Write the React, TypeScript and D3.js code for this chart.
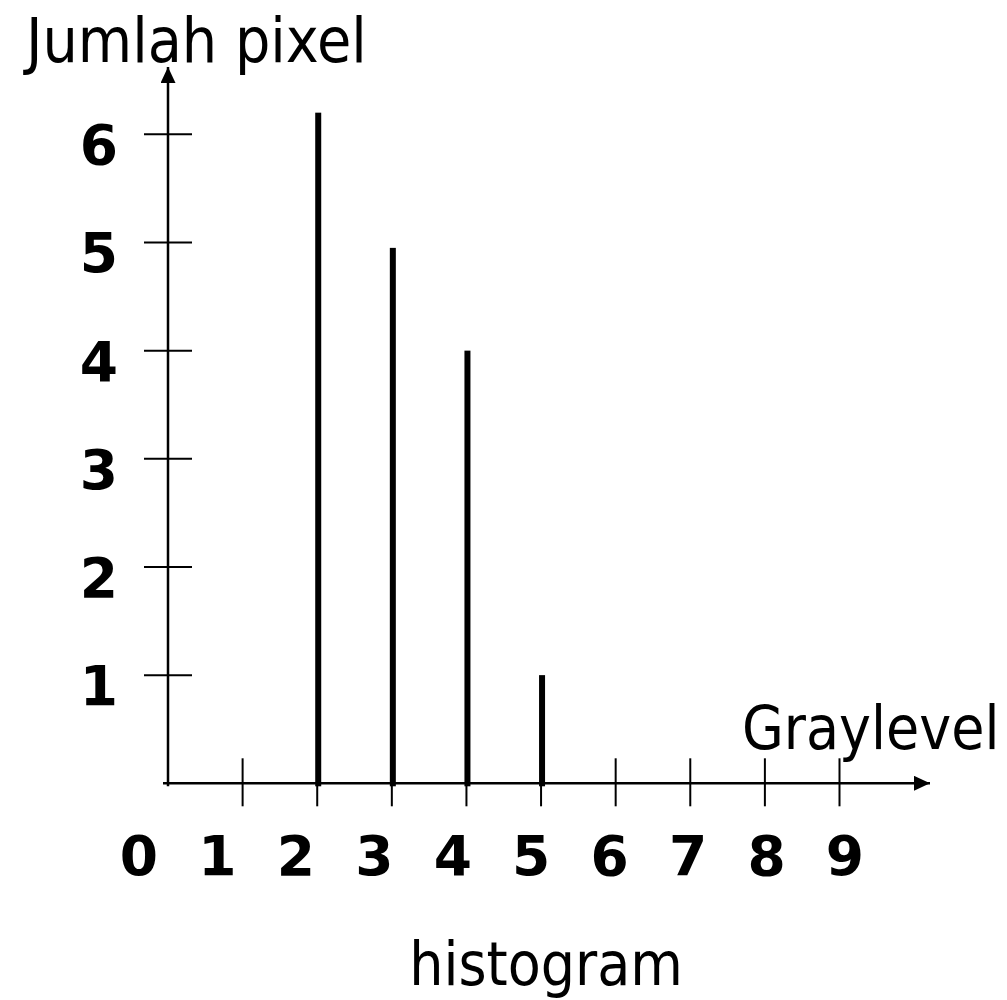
import React, { useEffect, useRef } from 'react'
import * as d3 from 'd3'

const grayLevels = [0, 1, 2, 3, 4, 5, 6, 7, 8, 9]
const pixelCounts = [0, 0, 6.2, 4.95, 4, 1, 0, 0, 0, 0]
const xTickValues = [1, 2, 3, 4, 5, 6, 7, 8, 9]
const xTickLabels = ['0', '1', '2', '3', '4', '5', '6', '7', '8', '9']
const yTickValues = [1, 2, 3, 4, 5, 6]
const yTickLabels = ['1', '2', '3', '4', '5', '6']

const App = () => {
    const Chart = useRef<SVGSVGElement>(null)

    const width = 1007
    const height = 1000
    const titleFont = '"DejaVu Sans Condensed", "DejaVu Sans", sans-serif'
    const tickFont = '"DejaVu Sans", Verdana, sans-serif'

    useEffect(() => {
        const svg = d3.select(Chart.current)
        svg.selectAll('*').remove()

        const x = d3.scaleLinear().domain([0, 9]).range([168, 839.5])
        // labels sit on a slightly wider spacing than the ticks
        const xLab = d3.scaleLinear().domain([0, 9]).range([139, 845])
        const y = d3.scaleLinear().domain([0, 6]).range([783.3, 134.3])

        // arrow head
        svg.append('defs').append('marker')
            .attr('id', 'arrow')
            .attr('viewBox', '0 0 16 15')
            .attr('refX', 16)
            .attr('refY', 7.5)
            .attr('markerWidth', 16)
            .attr('markerHeight', 15)
            .attr('markerUnits', 'userSpaceOnUse')
            .attr('orient', 'auto')
            .append('path')
            .attr('d', 'M0,0L16,7.5L0,15Z')
            .attr('fill', 'black')

        // axes
        svg.append('line')
            .attr('x1', x(0) - 5).attr('x2', 930)
            .attr('y1', y(0)).attr('y2', y(0))
            .attr('stroke', 'black').attr('stroke-width', 2.5)
            .attr('marker-end', 'url(#arrow)')
        svg.append('line')
            .attr('x1', x(0)).attr('x2', x(0))
            .attr('y1', y(0) + 3).attr('y2', 67)
            .attr('stroke', 'black').attr('stroke-width', 2.5)
            .attr('marker-end', 'url(#arrow)')

        // x ticks
        svg.append('g')
            .selectAll('line')
            .data(xTickValues)
            .join('line')
            .attr('x1', d => x(d)).attr('x2', d => x(d))
            .attr('y1', y(0) - 25).attr('y2', y(0) + 23)
            .attr('stroke', 'black').attr('stroke-width', 2)

        // y ticks
        svg.append('g')
            .selectAll('line')
            .data(yTickValues)
            .join('line')
            .attr('x1', x(0) - 24).attr('x2', x(0) + 24)
            .attr('y1', d => y(d)).attr('y2', d => y(d))
            .attr('stroke', 'black').attr('stroke-width', 2)

        // bars
        svg.append('g')
            .selectAll('rect')
            .data(grayLevels.filter((d, i) => pixelCounts[i] > 0))
            .join('rect')
            .attr('x', d => x(d) - 2)
            .attr('width', 6)
            .attr('y', d => y(pixelCounts[d]))
            .attr('height', d => y(0) + 3 - y(pixelCounts[d]))
            .attr('fill', 'black')

        // x tick labels
        svg.append('g')
            .selectAll('text')
            .data(xTickLabels)
            .join('text')
            .text(d => d)
            .attr('x', (d, i) => xLab(i))
            .attr('y', 875)
            .attr('text-anchor', 'middle')
            .attr('font-family', tickFont)
            .attr('font-weight', 'bold')
            .attr('font-size', 55)

        // y tick labels
        svg.append('g')
            .selectAll('text')
            .data(yTickLabels)
            .join('text')
            .text(d => d)
            .attr('x', 118)
            .attr('y', (d, i) => y(yTickValues[i]) + 30)
            .attr('text-anchor', 'end')
            .attr('font-family', tickFont)
            .attr('font-weight', 'bold')
            .attr('font-size', 55)

        // titles
        svg.append('text')
            .text('Jumlah pixel')
            .attr('x', 26).attr('y', 62)
            .attr('font-family', titleFont)
            .attr('font-size', 62)
        svg.append('text')
            .text('Graylevel')
            .attr('x', 742).attr('y', 749)
            .attr('font-family', titleFont)
            .attr('font-size', 60)
        svg.append('text')
            .text('histogram')
            .attr('x', 546).attr('y', 985)
            .attr('text-anchor', 'middle')
            .attr('font-family', titleFont)
            .attr('font-size', 60)
    }, [])

    return (
        <div>
            <svg ref={Chart} width={width} height={height}
                style={{ position: 'absolute', left: 0, top: 0, background: 'white' }}></svg>
        </div>
    )
}
export default App
